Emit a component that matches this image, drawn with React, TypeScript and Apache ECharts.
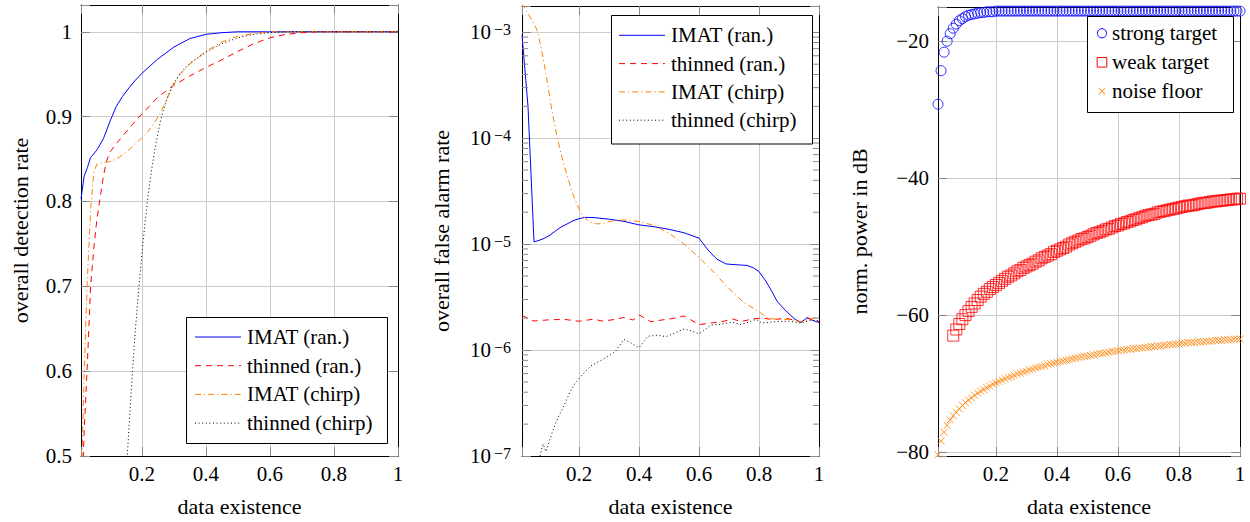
import React, { useEffect, useRef } from 'react';
import * as echarts from 'echarts';

const FONT = 'Liberation Serif';

// ---------- shared ----------
const SERIES_NAMES = ['IMAT (ran.)', 'thinned (ran.)', 'IMAT (chirp)', 'thinned (chirp)'];
const POWER_NAMES = ['strong target', 'weak target', 'noise floor'];
const X_TICK_LABELS = ['0.2', '0.4', '0.6', '0.8', '1'];

// ---------- panel 1: overall detection rate ----------
const detImatRanX = [0.01, 0.02, 0.03, 0.04, 0.05, 0.06, 0.08, 0.10, 0.12, 0.14, 0.16, 0.18, 0.20, 0.25, 0.30, 0.35, 0.40, 0.45, 0.50, 0.60, 0.70, 0.80, 0.90, 1.00];
const detImatRanY = [0.803, 0.830, 0.840, 0.852, 0.856, 0.861, 0.874, 0.894, 0.912, 0.924, 0.934, 0.943, 0.951, 0.968, 0.982, 0.992, 0.997, 0.999, 1.0, 1.0, 1.0, 1.0, 1.0, 1.0];

const detThinRanX = [0.01, 0.02, 0.03, 0.04, 0.05, 0.06, 0.07, 0.08, 0.09, 0.10, 0.12, 0.14, 0.16, 0.18, 0.20, 0.25, 0.30, 0.35, 0.40, 0.45, 0.50, 0.55, 0.60, 0.65, 0.70, 0.75, 0.80, 0.90, 1.00];
const detThinRanY = [0.42, 0.53, 0.61, 0.70, 0.745, 0.78, 0.805, 0.83, 0.848, 0.858, 0.868, 0.877, 0.886, 0.895, 0.903, 0.923, 0.937, 0.948, 0.958, 0.967, 0.977, 0.986, 0.993, 0.997, 0.999, 1.0, 1.0, 1.0, 1.0];

const detImatChirpX = [0.01, 0.02, 0.03, 0.04, 0.05, 0.06, 0.08, 0.10, 0.12, 0.14, 0.16, 0.18, 0.20, 0.22, 0.24, 0.26, 0.28, 0.30, 0.32, 0.35, 0.40, 0.45, 0.50, 0.55, 0.60, 0.70, 0.80, 0.90, 1.00];
const detImatChirpY = [0.45, 0.60, 0.71, 0.79, 0.835, 0.844, 0.846, 0.847, 0.850, 0.855, 0.861, 0.868, 0.875, 0.883, 0.893, 0.906, 0.922, 0.938, 0.950, 0.962, 0.977, 0.988, 0.995, 0.998, 1.0, 1.0, 1.0, 1.0, 1.0];

const detThinChirpX = [0.14, 0.15, 0.16, 0.17, 0.18, 0.19, 0.20, 0.21, 0.22, 0.23, 0.24, 0.25, 0.26, 0.28, 0.30, 0.32, 0.35, 0.40, 0.45, 0.50, 0.55, 0.60, 0.65, 0.70, 0.80, 0.90, 1.00];
const detThinChirpY = [0.40, 0.47, 0.535, 0.595, 0.65, 0.695, 0.737, 0.775, 0.808, 0.836, 0.860, 0.880, 0.898, 0.923, 0.940, 0.951, 0.963, 0.976, 0.986, 0.993, 0.997, 0.999, 1.0, 1.0, 1.0, 1.0, 1.0];

// ---------- panel 2: overall false alarm rate ----------
const faImatRanX = [0.01, 0.03, 0.05, 0.06, 0.08, 0.10, 0.12, 0.14, 0.16, 0.18, 0.20, 0.22, 0.25, 0.30, 0.35, 0.40, 0.45, 0.50, 0.55, 0.60, 0.63, 0.66, 0.69, 0.72, 0.76, 0.78, 0.80, 0.82, 0.84, 0.86, 0.88, 0.90, 0.92, 0.94, 0.96, 0.98, 1.00];
const faImatRanY = [9.4e-4, 2.0e-4, 1.05e-5, 1.07e-5, 1.12e-5, 1.2e-5, 1.32e-5, 1.45e-5, 1.55e-5, 1.66e-5, 1.74e-5, 1.79e-5, 1.78e-5, 1.72e-5, 1.64e-5, 1.52e-5, 1.46e-5, 1.38e-5, 1.28e-5, 1.14e-5, 8.8e-6, 7.2e-6, 6.5e-6, 6.4e-6, 6.3e-6, 6.0e-6, 5.5e-6, 4.6e-6, 3.7e-6, 2.9e-6, 2.5e-6, 2.2e-6, 1.95e-6, 1.82e-6, 2.02e-6, 1.9e-6, 1.82e-6];

const faThinRanX = [0.01, 0.05, 0.10, 0.15, 0.20, 0.25, 0.28, 0.32, 0.35, 0.38, 0.40, 0.44, 0.48, 0.52, 0.55, 0.60, 0.64, 0.68, 0.71, 0.74, 0.78, 0.81, 0.85, 0.89, 0.92, 0.94, 0.96, 0.98, 1.00];
const faThinRanY = [2.12e-6, 1.88e-6, 1.93e-6, 1.95e-6, 1.87e-6, 1.96e-6, 1.87e-6, 1.95e-6, 2.03e-6, 1.92e-6, 2.15e-6, 1.85e-6, 1.93e-6, 2.0e-6, 2.1e-6, 1.74e-6, 1.8e-6, 1.86e-6, 1.97e-6, 1.86e-6, 1.97e-6, 2.0e-6, 1.94e-6, 2.0e-6, 1.9e-6, 1.85e-6, 2.02e-6, 1.92e-6, 1.86e-6];

const faImatChirpX = [0.01, 0.03, 0.05, 0.06, 0.07, 0.08, 0.09, 0.10, 0.11, 0.12, 0.13, 0.14, 0.15, 0.16, 0.17, 0.18, 0.19, 0.20, 0.21, 0.22, 0.24, 0.26, 0.28, 0.30, 0.33, 0.36, 0.40, 0.45, 0.50, 0.55, 0.60, 0.65, 0.70, 0.75, 0.80, 0.83, 0.86, 0.90, 0.94, 0.97, 1.00];
const faImatChirpY = [1.9e-3, 1.5e-3, 1.2e-3, 1.05e-3, 8.0e-4, 5.8e-4, 4.0e-4, 2.7e-4, 1.8e-4, 1.3e-4, 9.5e-5, 7.2e-5, 5.6e-5, 4.5e-5, 3.6e-5, 2.95e-5, 2.5e-5, 2.15e-5, 1.9e-5, 1.76e-5, 1.6e-5, 1.55e-5, 1.57e-5, 1.63e-5, 1.69e-5, 1.68e-5, 1.64e-5, 1.5e-5, 1.27e-5, 1.0e-5, 7.5e-6, 5.4e-6, 3.8e-6, 2.8e-6, 2.3e-6, 2.0e-6, 1.95e-6, 1.95e-6, 1.85e-6, 1.95e-6, 2.1e-6];

const faThinChirpX = [0.06, 0.07, 0.08, 0.09, 0.10, 0.11, 0.12, 0.13, 0.15, 0.17, 0.19, 0.21, 0.24, 0.28, 0.32, 0.35, 0.37, 0.40, 0.43, 0.46, 0.49, 0.52, 0.55, 0.58, 0.60, 0.64, 0.67, 0.71, 0.74, 0.77, 0.79, 0.81, 0.85, 0.90, 0.94, 0.97, 1.00];
const faThinChirpY = [8e-8, 1.0e-7, 1.3e-7, 1.1e-7, 1.35e-7, 1.65e-7, 1.95e-7, 2.3e-7, 3.0e-7, 4.0e-7, 5.0e-7, 5.8e-7, 7.1e-7, 8.2e-7, 9.6e-7, 1.26e-6, 1.18e-6, 1.05e-6, 1.35e-6, 1.38e-6, 1.34e-6, 1.45e-6, 1.58e-6, 1.5e-6, 1.42e-6, 1.72e-6, 1.75e-6, 1.83e-6, 1.74e-6, 1.85e-6, 1.95e-6, 1.8e-6, 1.85e-6, 1.87e-6, 1.8e-6, 1.9e-6, 1.9e-6];

// minor tick values of the logarithmic axis (2..9 x 10^k)
const LOG_MINOR_TICKS = [
  2e-7, 3e-7, 4e-7, 5e-7, 6e-7, 7e-7, 8e-7, 9e-7,
  2e-6, 3e-6, 4e-6, 5e-6, 6e-6, 7e-6, 8e-6, 9e-6,
  2e-5, 3e-5, 4e-5, 5e-5, 6e-5, 7e-5, 8e-5, 9e-5,
  2e-4, 3e-4, 4e-4, 5e-4, 6e-4, 7e-4, 8e-4, 9e-4,
];

// ---------- panel 3: normalized power in dB ----------
const existenceGrid = Array.from({ length: 100 }, (_, i) => +((i + 1) / 100).toFixed(2));

const strongTarget = [
  -29.2, -24.3, -21.6, -20.0, -18.9, -18.1, -17.5, -17.0, -16.7, -16.4,
  -16.2, -16.1, -16.0, -15.9, -15.8, -15.8, -15.7, -15.7, -15.7, -15.6,
  -15.6, -15.6, -15.6, -15.6, -15.6, -15.6, -15.6, -15.6, -15.6, -15.6,
  -15.6, -15.6, -15.6, -15.6, -15.6, -15.6, -15.6, -15.6, -15.6, -15.6,
  -15.6, -15.6, -15.6, -15.6, -15.6, -15.6, -15.6, -15.6, -15.6, -15.6,
  -15.6, -15.6, -15.6, -15.6, -15.6, -15.6, -15.6, -15.6, -15.6, -15.6,
  -15.6, -15.6, -15.6, -15.6, -15.6, -15.6, -15.6, -15.6, -15.6, -15.6,
  -15.6, -15.6, -15.6, -15.6, -15.6, -15.6, -15.6, -15.6, -15.6, -15.6,
  -15.6, -15.6, -15.6, -15.6, -15.6, -15.6, -15.6, -15.6, -15.6, -15.6,
  -15.6, -15.6, -15.6, -15.6, -15.6, -15.6, -15.6, -15.6, -15.6, -15.6,
];

// weak target starts at 0.06
const weakTarget = [
  -63.0, -62.1, -61.3, -60.6, -60.0,
  -59.4, -58.8, -58.3, -57.8, -57.3, -56.9, -56.6, -56.2, -55.9, -55.6,
  -55.3, -55.0, -54.7, -54.4, -54.2, -53.9, -53.6, -53.4, -53.1, -52.9,
  -52.7, -52.5, -52.2, -52.0, -51.7, -51.5, -51.3, -51.1, -50.8, -50.6,
  -50.4, -50.2, -50.0, -49.7, -49.5, -49.3, -49.1, -48.9, -48.8, -48.6,
  -48.4, -48.2, -48.0, -47.9, -47.7, -47.5, -47.4, -47.2, -47.0, -46.9,
  -46.7, -46.6, -46.4, -46.3, -46.1, -46.0, -45.8, -45.7, -45.5, -45.4,
  -45.3, -45.2, -45.0, -44.9, -44.8, -44.7, -44.6, -44.5, -44.4, -44.3,
  -44.2, -44.1, -44.0, -44.0, -43.9, -43.8, -43.7, -43.6, -43.6, -43.5,
  -43.4, -43.4, -43.3, -43.3, -43.2, -43.2, -43.1, -43.1, -43.0, -43.0,
];

const noiseFloor = [
  -80.4, -78.4, -77.1, -76.1, -75.3, -74.7, -74.2, -73.7, -73.2, -72.8,
  -72.4, -72.1, -71.7, -71.4, -71.1, -70.9, -70.6, -70.4, -70.1, -69.9,
  -69.7, -69.5, -69.3, -69.1, -69.0, -68.8, -68.6, -68.5, -68.3, -68.2,
  -68.0, -67.9, -67.7, -67.6, -67.5, -67.4, -67.2, -67.1, -67.0, -66.9,
  -66.8, -66.7, -66.6, -66.5, -66.4, -66.3, -66.2, -66.1, -66.0, -66.0,
  -65.9, -65.8, -65.7, -65.6, -65.6, -65.5, -65.4, -65.3, -65.3, -65.2,
  -65.1, -65.1, -65.0, -65.0, -64.9, -64.9, -64.8, -64.8, -64.7, -64.7,
  -64.6, -64.6, -64.5, -64.5, -64.4, -64.4, -64.3, -64.3, -64.2, -64.2,
  -64.1, -64.1, -64.0, -64.0, -64.0, -63.9, -63.9, -63.9, -63.8, -63.8,
  -63.8, -63.7, -63.7, -63.7, -63.6, -63.6, -63.6, -63.5, -63.5, -63.5,
];

// ---------- styling ----------
const GRID_COLOR = '#cccccc';
const TICK_COLOR = '#888888';
const TICK_FONT = 21;
const NAME_FONT = 22;
const LEGEND_FONT = 21;
const BLUE = '#0000ff';
const RED = '#ff0000';
const ORANGE = '#ff8000';
const CROSS_PATH = 'path://M0,0L10,10M10,0L0,10';

// axis indices: bottom/left axes are 0,1,2; top/right mirrors are 3,4,5
const zip = (xs: number[], ys: number[]) => xs.map((x, i) => [x, ys[i]]);

const isMultiple = (v: number, step: number) => Math.abs(v / step - Math.round(v / step)) < 1e-6;

const fmtX = (v: number) => {
  if (!isMultiple(v, 0.2) || v < 0.1) return '';
  const idx = Math.round(v / 0.2) - 1;
  return X_TICK_LABELS[idx] ?? '';
};
const fmtDet = (v: number) => {
  if (!isMultiple(v, 0.1) || v > 1.0001) return '';
  return Math.abs(v - 1) < 1e-6 ? '1' : v.toFixed(1);
};
const fmtLog = (v: number) => {
  const e = Math.log10(v);
  if (Math.abs(e - Math.round(e)) > 1e-6) return '';
  const k = Math.round(e);
  return `{b|10}{s|${k < 0 ? '\u2212' : ''}${Math.abs(k)}}`;
};
const fmtDb = (v: number) => {
  if (!isMultiple(v, 20)) return '';
  return v < 0 ? `\u2212${Math.abs(v)}` : `${v}`;
};

const axisLineStyle = { show: true, onZero: false, lineStyle: { color: '#000', width: 1 } };
const majorTick = { show: true, inside: true, length: 9, lineStyle: { color: TICK_COLOR, width: 1 } };

function xAxisMain(gridIndex: number) {
  return {
    type: 'value', gridIndex, min: 0.01, max: 1, minInterval: 0.2, maxInterval: 0.2,
    position: 'bottom',
    name: 'data existence',
    nameLocation: 'middle',
    nameGap: 39,
    nameTextStyle: { fontFamily: FONT, fontSize: NAME_FONT, color: '#000' },
    axisLine: axisLineStyle,
    axisTick: majorTick,
    axisLabel: { margin: 7, fontFamily: FONT, fontSize: TICK_FONT, color: '#000', formatter: fmtX },
    splitLine: { show: true, lineStyle: { color: GRID_COLOR, width: 1 } },
  };
}
function xAxisMirror(gridIndex: number) {
  return {
    type: 'value', gridIndex, min: 0.01, max: 1, minInterval: 0.2, maxInterval: 0.2,
    position: 'top',
    axisLine: axisLineStyle,
    axisTick: majorTick,
    axisLabel: { show: false },
    splitLine: { show: false },
  };
}

function yAxisMain(gridIndex: number, scale: any, name: string, nameGap: number, margin: number, formatter: any, rich?: any) {
  return {
    ...scale,
    gridIndex,
    position: 'left',
    name,
    nameLocation: 'middle',
    nameGap,
    nameTextStyle: { fontFamily: FONT, fontSize: NAME_FONT, color: '#000' },
    axisLine: axisLineStyle,
    axisTick: majorTick,
    axisLabel: { margin, fontFamily: FONT, fontSize: TICK_FONT, color: '#000', formatter, rich },
    splitLine: { show: true, lineStyle: { color: GRID_COLOR, width: 1 } },
  };
}
function yAxisMirror(gridIndex: number, scale: any) {
  return {
    ...scale,
    gridIndex,
    position: 'right',
    axisLine: axisLineStyle,
    axisTick: majorTick,
    axisLabel: { show: false },
    splitLine: { show: false },
  };
}

const detScale = { type: 'value', min: 0.5, max: 1.0316, minInterval: 0.1, maxInterval: 0.1 };
const faScale = { type: 'log', logBase: 10, min: 1e-7, max: 1.77e-3 };
const dbScale = { type: 'value', min: -80.58, max: -15.0, minInterval: 20, maxInterval: 20 };

const lineStyles = [
  { color: BLUE, width: 1, type: 'solid', dash: null as number[] | null },
  { color: RED, width: 1, type: [6, 5], dash: [6, 5] },
  { color: ORANGE, width: 1, type: [6, 3, 1.2, 3], dash: [6, 3, 1.2, 3] },
  { color: '#000000', width: 1, type: [1, 2.6], dash: [1, 2.6] },
];

function lineSeries(name: string, idx: number, axis: number, data: number[][]) {
  const ls = lineStyles[idx];
  return {
    type: 'line',
    name,
    xAxisIndex: axis,
    yAxisIndex: axis,
    data,
    symbol: 'none',
    showSymbol: false,
    clip: true,
    color: ls.color,
    lineStyle: { color: ls.color, width: ls.width, type: ls.type },
    emphasis: { disabled: true },
    z: 2 + idx * 0.1,
  };
}

function scatterSeries(name: string, symbol: string, size: number, color: string, data: number[][]) {
  return {
    type: 'scatter',
    name,
    xAxisIndex: 2,
    yAxisIndex: 2,
    data,
    symbol,
    symbolSize: size,
    color,
    itemStyle: { color: 'transparent', borderColor: color, borderWidth: 1 },
    emphasis: { disabled: true },
    clip: true,
  };
}

// ---------- legend boxes (drawn as graphic elements) ----------
const LINE_LEGENDS = [
  { box: [186.5, 317.5, 201, 126], rowY0: 337, rowStep: 28.7, iconX: [195, 241], textX: 247 },
  { box: [611.5, 15.5, 201, 128.5], rowY0: 35.3, rowStep: 28.3, iconX: [619, 665], textX: 671 },
];
const POWER_LEGEND = { box: [1087.5, 16.5, 146, 96], rowY0: 33.3, rowStep: 29, iconCX: 1102, textX: 1112 };

const legendTextStyle = (text: string) => ({
  text,
  fontFamily: FONT,
  fontSize: LEGEND_FONT,
  fill: '#000',
  align: 'left',
  verticalAlign: 'middle',
});

function buildLegends() {
  const els: any[] = [];
  const boxEl = (b: number[]) => ({
    type: 'rect',
    shape: { x: b[0], y: b[1], width: b[2], height: b[3] },
    style: { fill: '#fff', stroke: '#000', lineWidth: 1 },
    z: 100,
    silent: true,
  });
  LINE_LEGENDS.forEach((lg) => {
    els.push(boxEl(lg.box));
    SERIES_NAMES.forEach((name, i) => {
      const y = lg.rowY0 + i * lg.rowStep;
      const ls = lineStyles[i];
      els.push({
        type: 'line',
        shape: { x1: lg.iconX[0], y1: y, x2: lg.iconX[1], y2: y },
        style: { stroke: ls.color, lineWidth: 1, lineDash: ls.dash },
        z: 101,
        silent: true,
      });
      els.push({ type: 'text', x: lg.textX, y, style: legendTextStyle(name), z: 101, silent: true });
    });
  });
  const p = POWER_LEGEND;
  els.push(boxEl(p.box));
  const y0 = p.rowY0;
  const y1 = p.rowY0 + p.rowStep;
  const y2 = p.rowY0 + 2 * p.rowStep;
  els.push({ type: 'circle', shape: { cx: p.iconCX, cy: y0, r: 4.6 }, style: { fill: 'none', stroke: BLUE, lineWidth: 1 }, z: 101, silent: true });
  els.push({ type: 'rect', shape: { x: p.iconCX - 4.8, y: y1 - 4.8, width: 9.6, height: 9.6 }, style: { fill: 'none', stroke: RED, lineWidth: 1 }, z: 101, silent: true });
  els.push({ type: 'line', shape: { x1: p.iconCX - 3.3, y1: y2 - 3.3, x2: p.iconCX + 3.3, y2: y2 + 3.3 }, style: { stroke: ORANGE, lineWidth: 1 }, z: 101, silent: true });
  els.push({ type: 'line', shape: { x1: p.iconCX + 3.3, y1: y2 - 3.3, x2: p.iconCX - 3.3, y2: y2 + 3.3 }, style: { stroke: ORANGE, lineWidth: 1 }, z: 101, silent: true });
  [y0, y1, y2].forEach((y, i) => {
    els.push({ type: 'text', x: p.textX, y, style: legendTextStyle(POWER_NAMES[i]), z: 101, silent: true });
  });
  return els;
}

const option = {
  animation: false,
  backgroundColor: '#ffffff',
  textStyle: { fontFamily: FONT },
  grid: [
    { left: 81, top: 5, width: 317, height: 454 },
    { left: 522, top: 6, width: 297, height: 453 },
    { left: 938, top: 7, width: 302, height: 452 },
  ],
  xAxis: [xAxisMain(0), xAxisMain(1), xAxisMain(2), xAxisMirror(0), xAxisMirror(1), xAxisMirror(2)],
  yAxis: [
    yAxisMain(0, detScale, 'overall detection rate', 50, 9, fmtDet),
    yAxisMain(1, faScale, 'overall false alarm rate', 70, 11, fmtLog, {
      b: { fontFamily: FONT, fontSize: TICK_FONT, color: '#000' },
      s: { fontFamily: FONT, fontSize: 16, color: '#000', verticalAlign: 'top', lineHeight: 12, padding: [0, 0, 0, 3] },
    }),
    yAxisMain(2, dbScale, 'norm. power in dB', 68, 9, fmtDb),
    yAxisMirror(0, detScale),
    yAxisMirror(1, faScale),
    yAxisMirror(2, dbScale),
  ],
  graphic: buildLegends(),
  series: [
    lineSeries(SERIES_NAMES[0], 0, 0, zip(detImatRanX, detImatRanY)),
    lineSeries(SERIES_NAMES[1], 1, 0, zip(detThinRanX, detThinRanY)),
    lineSeries(SERIES_NAMES[2], 2, 0, zip(detImatChirpX, detImatChirpY)),
    lineSeries(SERIES_NAMES[3], 3, 0, zip(detThinChirpX, detThinChirpY)),
    lineSeries(SERIES_NAMES[0], 0, 1, zip(faImatRanX, faImatRanY)),
    lineSeries(SERIES_NAMES[1], 1, 1, zip(faThinRanX, faThinRanY)),
    lineSeries(SERIES_NAMES[2], 2, 1, zip(faImatChirpX, faImatChirpY)),
    lineSeries(SERIES_NAMES[3], 3, 1, zip(faThinChirpX, faThinChirpY)),
    {
      type: 'custom',
      name: 'log minor ticks',
      xAxisIndex: 1,
      yAxisIndex: 1,
      silent: true,
      clip: false,
      z: 3,
      data: LOG_MINOR_TICKS.map((v) => [0.5, v]),
      renderItem: (params: any, api: any) => {
        const cs = params.coordSys;
        const y = api.coord([0.5, api.value(1)])[1];
        const st = { stroke: TICK_COLOR, lineWidth: 1 };
        return {
          type: 'group',
          children: [
            { type: 'line', shape: { x1: cs.x, y1: y, x2: cs.x + 6, y2: y }, style: st },
            { type: 'line', shape: { x1: cs.x + cs.width - 6, y1: y, x2: cs.x + cs.width, y2: y }, style: st },
          ],
        };
      },
    },
    scatterSeries(POWER_NAMES[0], 'circle', 10, BLUE, zip(existenceGrid, strongTarget)),
    scatterSeries(POWER_NAMES[1], 'rect', 11, RED, zip(existenceGrid.slice(5), weakTarget)),
    scatterSeries(POWER_NAMES[2], CROSS_PATH, 7, ORANGE, zip(existenceGrid, noiseFloor)),
  ],
};

export default function App() {
  const ref = useRef<HTMLDivElement>(null);
  useEffect(() => {
    const chart = echarts.init(ref.current!, null, { renderer: 'svg' });
    chart.setOption(option as any);
    return () => chart.dispose();
  }, []);
  return (
    <div
      ref={ref}
      style={{ position: 'fixed', left: 0, top: 0, width: 1250, height: 522, background: '#fff' }}
    />
  );
}
